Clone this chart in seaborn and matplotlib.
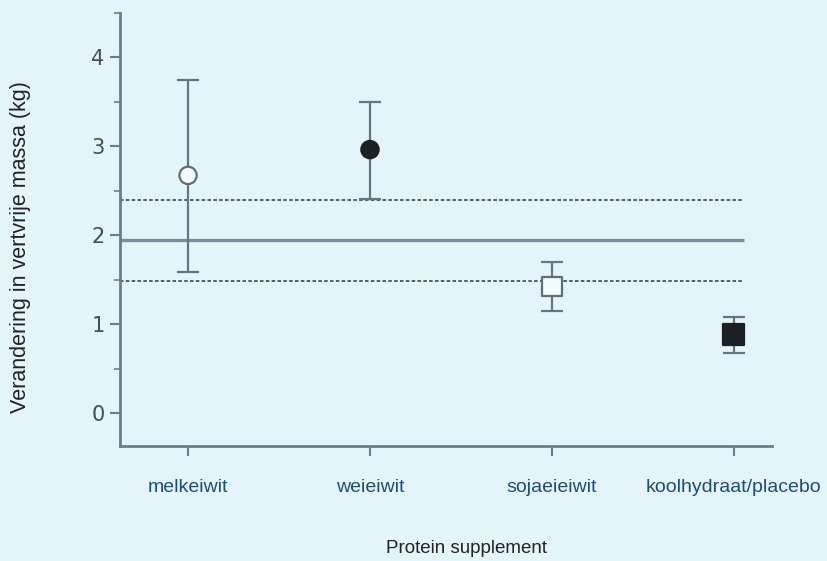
import matplotlib.pyplot as plt
import numpy as np
import pandas as pd
import seaborn as sns
from matplotlib.ticker import MultipleLocator

# Data
categories = ['melkeiwit', 'weieiwit', 'sojaeieiwit', 'koolhydraat/placebo']
means = [2.67, 2.96, 1.42, 0.88]
upper = [3.74, 3.50, 1.70, 1.08]
lower = [1.59, 2.40, 1.15, 0.67]
overall_mean = 1.94
band_low = 1.48
band_high = 2.39

df = pd.DataFrame({'supplement': categories, 'change': means,
                   'upper': upper, 'lower': lower})

# Styling
bg = '#e3f4fb'
axis_grey = '#6d7d87'
marker_map = {'melkeiwit': 'o', 'weieiwit': 'o',
              'sojaeieiwit': 's', 'koolhydraat/placebo': 's'}
face_map = {'melkeiwit': '#f4fafd', 'weieiwit': '#1c1f24',
            'sojaeieiwit': '#f4fafd', 'koolhydraat/placebo': '#1c1f24'}
edge_list = ['#5f6f79', '#1c1f24', '#5f6f79', '#1c1f24']
size_list = [155, 155, 200, 230]

sns.set_style('ticks')
plt.rcParams['font.family'] = ['Liberation Sans', 'DejaVu Sans']

fig, ax = plt.subplots(figsize=(8.27, 5.61), dpi=100)
fig.patch.set_facecolor(bg)
ax.set_facecolor(bg)
fig.subplots_adjust(left=120 / 827, right=772 / 827,
                    bottom=1 - 446 / 561, top=1 - 12.5 / 561)

# Markers
sns.scatterplot(data=df, x='supplement', y='change', hue='supplement',
                style='supplement', palette=face_map, markers=marker_map,
                s=size_list, edgecolor=edge_list, linewidth=1.6,
                legend=False, zorder=4, ax=ax)

# Error bars
pos = np.arange(len(categories))
yerr = [df['change'] - df['lower'], df['upper'] - df['change']]
ax.errorbar(pos, df['change'], yerr=yerr, fmt='none', ecolor='#66757f',
            elinewidth=1.6, capsize=8, capthick=1.6, zorder=3)

# Mean line and band
x_left, x_right, line_end = -0.374, 3.21, 3.055
ax.hlines(overall_mean, x_left, line_end, color='#7d8c95', linewidth=2.4, zorder=2)
for yv in (band_low, band_high):
    ax.hlines(yv, x_left, line_end, color='#525e66', linewidth=1.4,
              linestyle=(0, (1.8, 1.2)), zorder=2)

ax.set_xlim(x_left, x_right)
ax.set_ylim(-0.37, 4.5)
ax.yaxis.set_major_locator(MultipleLocator(1))
ax.yaxis.set_minor_locator(MultipleLocator(0.5))

for side in ('top', 'right'):
    ax.spines[side].set_visible(False)
for side in ('left', 'bottom'):
    ax.spines[side].set_color(axis_grey)
    ax.spines[side].set_linewidth(2.0)

ax.tick_params(axis='y', which='major', length=7, width=1.5, color=axis_grey,
               pad=4, labelsize=15, labelcolor='#474d52')
ax.tick_params(axis='y', which='minor', length=4, width=1.2, color=axis_grey)
ax.tick_params(axis='x', length=7, width=1.5, color=axis_grey, pad=17,
               labelsize=14, labelcolor='#1d4e7a')
for lab in ax.get_yticklabels():
    lab.set_fontfamily('DejaVu Sans')

ax.set_xlabel('Protein supplement', fontsize=13.5, color='#222222')
ax.xaxis.set_label_coords((466 - 120) / 652, -(540 - 446) / 433.5)
ax.set_ylabel('Verandering in vertvrije massa (kg)', fontsize=15.5,
              color='#222222')
ax.yaxis.set_label_coords(-(120 - 31) / 652, (446 - 247) / 433.5)

fig.savefig('out.png', dpi=100, facecolor=bg)
